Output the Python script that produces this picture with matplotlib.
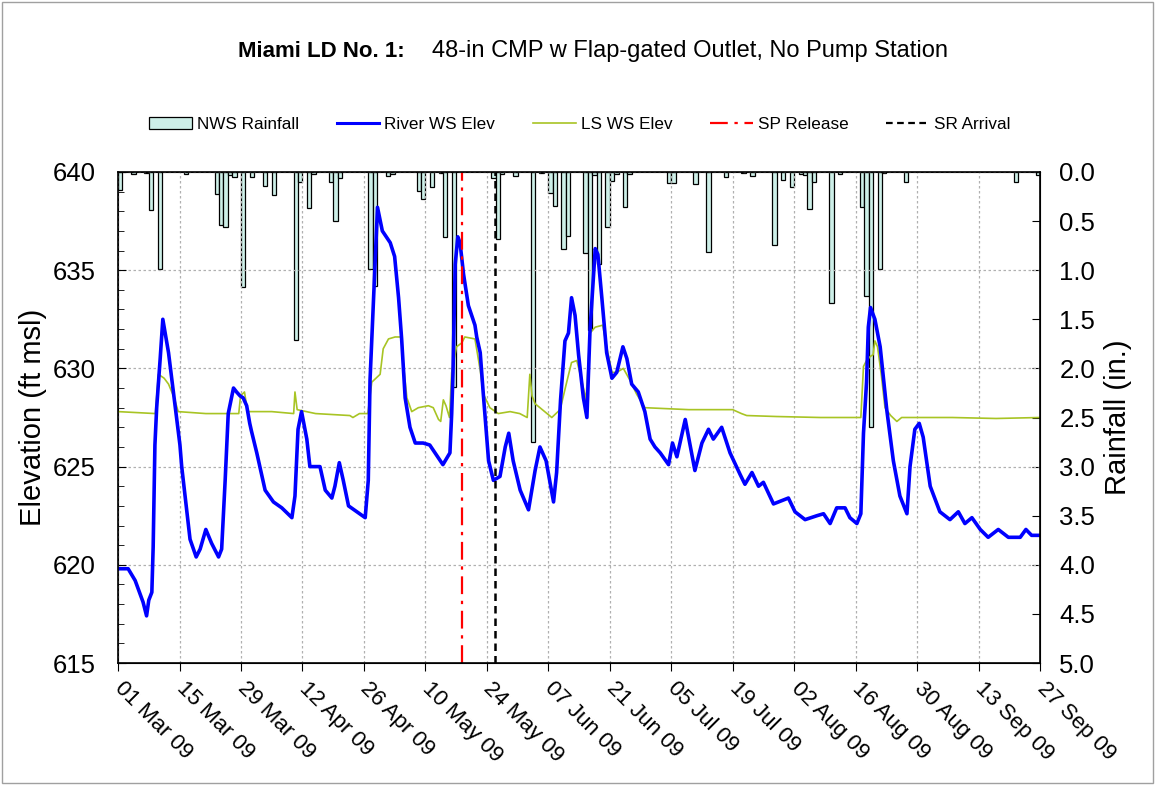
import matplotlib
matplotlib.use("Agg")
import matplotlib.pyplot as plt
import matplotlib.patches as mpatches
import matplotlib.lines as mlines
from matplotlib.ticker import MultipleLocator, FormatStrFormatter
import pandas as pd

plt.rcParams["font.family"] = ["Liberation Sans", "DejaVu Sans"]

# ── data (days after 01 Mar 2009) ────────────────────────────────────────────
start = pd.Timestamp("2009-03-01")

rain_day = [0, 3, 6, 7, 9, 15, 22, 23, 24, 25, 26, 28, 30, 33, 35, 40, 41, 43, 44,
            48, 49, 50, 57, 58, 61, 62, 68, 69, 71, 73, 74, 76, 85, 86, 87, 90,
            94, 96, 98, 99, 101, 102, 106, 107, 108, 109, 111, 112, 113, 115,
            116, 125, 126, 131, 134, 138, 142, 144, 149, 151, 153, 155, 156,
            157, 158, 162, 164, 169, 170, 171, 173, 174, 179, 204, 209]
rain_in = [0.18, 0.02, 0.01, 0.39, 0.99, 0.02, 0.22, 0.54, 0.56, 0.03, 0.05,
           1.17, 0.05, 0.14, 0.23, 1.71, 0.10, 0.37, 0.02, 0.10, 0.50, 0.06,
           0.99, 1.16, 0.04, 0.02, 0.19, 0.27, 0.15, 0.01, 0.66, 2.19, 0.06,
           0.68, 0.02, 0.04, 2.75, 0.01, 0.21, 0.35, 0.78, 0.65, 0.82, 1.61,
           0.03, 0.94, 0.56, 0.09, 0.02, 0.36, 0.02, 0.11, 0.11, 0.12, 0.81,
           0.05, 0.01, 0.04, 0.74, 0.08, 0.15, 0.02, 0.03, 0.38, 0.10, 1.33,
           0.02, 0.36, 1.26, 2.60, 0.99, 0.01, 0.10, 0.10, 0.03]

river_day = [0, 2.3, 3.9, 5.7, 6.5, 7.0, 7.7, 8.0, 8.4, 8.8, 9.6, 10.2, 11.5,
             13.0, 14.1, 14.5, 16.4, 17.8, 18.7, 20.0, 21.3, 22.9, 23.6, 24.4,
             25.1, 26.3, 27.0, 27.8, 28.5, 29.3, 30.0, 30.4, 31.6, 33.5, 35.4,
             37.3, 39.6, 40.3, 41.0, 41.8, 43.0, 43.7, 46.0, 47.2, 48.7, 49.4,
             50.4, 51.3, 52.5, 54.4, 56.3, 57.0, 57.4, 58.2, 59.1, 60.2, 62.0,
             63.0, 63.9, 64.6, 65.4, 66.5, 67.7, 69.5, 71.0, 72.2, 74.0, 75.6,
             76.0, 76.3, 76.8, 77.4, 77.9, 78.7, 79.8, 81.3, 81.7, 82.5, 83.2,
             84.4, 85.5, 87.0, 88.2, 89.0, 90.0, 91.6, 93.5, 95.0, 96.1, 97.5,
             99.2, 99.9, 100.8, 101.8, 102.6, 103.3, 104.1, 104.9, 106.0, 106.8,
             107.5, 108.7, 109.3, 110.2, 111.3, 112.5, 113.6, 115.0, 115.9,
             117.0, 118.5, 120.0, 121.2, 122.3, 123.5, 125.4, 126.3, 127.3,
             129.2, 131.4, 133.0, 134.5, 135.6, 137.5, 139.4, 141.7, 142.8,
             144.4, 145.9, 147.0, 149.3, 152.7, 154.2, 156.5, 159.2, 160.7,
             162.2, 163.7, 165.6, 166.7, 168.3, 169.2, 169.8, 170.5, 170.9,
             171.4, 172.4, 173.6, 175.1, 176.6, 178.1, 179.7, 180.4, 181.5,
             182.5, 183.4, 185.0, 187.2, 189.5, 191.4, 192.9, 194.5, 196.4,
             198.2, 200.5, 202.8, 205.5, 206.8, 208.1, 210.0]
river_elev = [619.8, 619.8, 619.2, 618.1, 617.4, 618.2, 618.6, 620.9, 626.1,
              628.0, 630.5, 632.5, 630.8, 628.1, 626.1, 625.0, 621.3, 620.4,
              620.8, 621.8, 621.1, 620.4, 620.8, 624.3, 627.7, 629.0, 628.8,
              628.6, 628.5, 628.1, 627.2, 626.8, 625.7, 623.8, 623.2, 622.9,
              622.4, 623.5, 626.9, 627.8, 626.4, 625.0, 625.0, 623.8, 623.4,
              624.0, 625.2, 624.3, 623.0, 622.7, 622.4, 624.3, 629.4, 633.6,
              638.2, 637.0, 636.4, 635.7, 633.6, 631.5, 628.5, 627.0, 626.2,
              626.2, 626.1, 625.7, 625.1, 625.7, 627.7, 629.8, 635.3, 636.7,
              636.4, 634.8, 633.2, 632.2, 631.6, 630.8, 628.7, 625.3, 624.3,
              624.5, 626.0, 626.7, 625.3, 623.8, 622.8, 624.8, 626.0, 625.3,
              623.2, 624.7, 628.4, 631.4, 631.8, 633.6, 632.7, 630.7, 628.5,
              627.5, 631.9, 636.1, 635.8, 633.6, 630.8, 629.5, 629.8, 631.1,
              630.5, 629.2, 628.8, 627.8, 626.4, 626.0, 625.7, 625.1, 626.2,
              625.5, 627.4, 624.8, 626.2, 626.9, 626.4, 627.0, 625.7, 624.6,
              624.1, 624.7, 624.0, 624.2, 623.1, 623.4, 622.7, 622.3, 622.5,
              622.6, 622.1, 622.9, 622.9, 622.4, 622.1, 622.6, 626.7, 629.3,
              632.1, 633.1, 632.5, 631.1, 627.9, 625.3, 623.5, 622.6, 625.0,
              626.9, 627.2, 626.5, 624.0, 622.7, 622.3, 622.7, 622.1, 622.4,
              621.8, 621.4, 621.8, 621.4, 621.4, 621.8, 621.5, 621.5]

ls_day = [0, 8.5, 9.2, 10.5, 11.5, 12.8, 13.7, 20, 27.5, 27.9, 28.8, 29.5, 35,
          40.0, 40.3, 40.8, 45, 52.8, 53.5, 55.0, 56.9, 57.8, 59.7, 60.4, 61.6,
          63.1, 64.5, 65.0, 65.8, 66.9, 68.4, 70.7, 71.8, 73.0, 73.5, 74.1,
          74.7, 75.5, 76.0, 77.1, 78.3, 79.0, 81.3, 82.5, 83.2, 84.7, 86.6,
          89.3, 91.5, 93.2, 93.8, 94.3, 95.0, 96.1, 98.8, 100.7, 102.2, 103.3,
          104.5, 105.6, 106.6, 107.5, 108.7, 110.4, 111.3, 112.5, 113.6, 115.1,
          116.6, 118.1, 120.0, 130, 140, 142, 143.2, 150, 160, 169.2, 169.8,
          170.5, 171.3, 172.0, 172.4, 173.0, 173.9, 174.7, 176.0, 177.4, 178.5,
          190, 200, 210]
ls_elev = [627.8, 627.7, 629.7, 629.5, 629.2, 628.5, 627.8, 627.7, 627.7, 628.6,
           628.8, 627.8, 627.8, 627.7, 628.8, 627.9, 627.7, 627.6, 627.5, 627.7,
           627.7, 629.3, 629.7, 631.0, 631.5, 631.6, 631.6, 630.2, 628.5, 627.8,
           628.0, 628.1, 628.0, 627.4, 627.3, 628.4, 628.1, 627.5, 629.8, 631.1,
           631.3, 631.6, 631.5, 629.9, 628.7, 628.0, 627.7, 627.8, 627.7, 627.5,
           629.7, 628.6, 628.2, 628.0, 627.5, 627.9, 629.3, 630.3, 630.4, 629.4,
           628.4, 631.8, 632.1, 632.2, 631.1, 629.8, 629.8, 630.0, 629.4, 628.7,
           628.0, 627.9, 627.9, 627.7, 627.6, 627.55, 627.5, 627.5, 630.1, 630.4,
           630.6, 630.7, 631.4, 631.1, 629.6, 628.0, 627.6, 627.3, 627.5, 627.5,
           627.45, 627.5]

sp_release = pd.Timestamp("2009-05-18 07:00")
sr_arrival = pd.Timestamp("2009-05-25 22:00")

tick_labels = ["01 Mar 09", "15 Mar 09", "29 Mar 09", "12 Apr 09", "26 Apr 09",
               "10 May 09", "24 May 09", "07 Jun 09", "21 Jun 09", "05 Jul 09",
               "19 Jul 09", "02 Aug 09", "16 Aug 09", "30 Aug 09", "13 Sep 09",
               "27 Sep 09"]
# ─────────────────────────────────────────────────────────────────────────────

def to_dates(days):
    return start + pd.to_timedelta(days, unit="D")

fig = plt.figure(figsize=(11.55, 7.85), dpi=100)
ax = fig.add_axes([0.1022, 0.1554, 0.7982, 0.6255])
ax2 = ax.twinx()
ax.set_zorder(ax2.get_zorder() + 1)
ax.patch.set_visible(False)

# rainfall bars hanging from the top (inverted right axis)
ax2.bar(to_dates(rain_day), rain_in, width=1.0, align="edge",
        color="#CDEFE8", edgecolor="black", linewidth=0.9)
ax2.set_ylim(5.0, 0.0)
ax2.yaxis.set_major_locator(MultipleLocator(0.5))
ax2.yaxis.set_major_formatter(FormatStrFormatter("%.1f"))
ax2.tick_params(axis="y", direction="in", length=6, labelsize=18.5, pad=14)
ax2.set_ylabel("Rainfall (in.)", fontsize=21, labelpad=6)

ax.plot(to_dates(ls_day), ls_elev, color="#A8C424", linewidth=1.2)
ax.plot(to_dates(river_day), river_elev, color="#0000FF", linewidth=2.6)
ax.axvline(sp_release, color="#FF0000", linestyle=(0, (8, 3, 1.5, 3)), linewidth=1.6)
ax.axvline(sr_arrival, color="black", linestyle=(0, (3, 2)), linewidth=1.8)

ax.set_ylim(615, 640)
ax.yaxis.set_major_locator(MultipleLocator(5))
ax.yaxis.set_minor_locator(MultipleLocator(1))
ax.tick_params(axis="y", which="major", direction="in", length=6,
               labelsize=18.5, pad=16)
ax.tick_params(axis="y", which="minor", direction="in", length=4)
ax.set_ylabel("Elevation (ft msl)", fontsize=21, labelpad=4)

tick_dates = pd.date_range(start, periods=len(tick_labels), freq="14D")
ax.set_xlim(tick_dates[0], tick_dates[-1])
ax.set_xticks(tick_dates)
ax.set_xticklabels(tick_labels, rotation=-45, ha="left", va="center",
                   rotation_mode="anchor", fontsize=16)
ax.tick_params(axis="x", direction="out", length=6, pad=10)

ax.grid(True, color="#B0B0B0", linestyle=(0, (2, 2)), linewidth=0.9)
for s in ax.spines.values():
    s.set_linewidth(1.2)

fig.text(0.3506, 0.935, "Miami LD No. 1:", fontsize=16, fontweight="bold",
         ha="right", va="center")
fig.text(0.374, 0.935, "48-in CMP w Flap-gated Outlet, No Pump Station",
         fontsize=17, ha="left", va="center")

handles = [
    mpatches.Patch(facecolor="#CDEFE8", edgecolor="black", linewidth=0.9,
                   label="NWS Rainfall"),
    mlines.Line2D([], [], color="#0000FF", linewidth=2.2, label="River WS Elev"),
    mlines.Line2D([], [], color="#A8C424", linewidth=1.2, label="LS WS Elev"),
    mlines.Line2D([], [], color="#FF0000", linestyle=(0, (8, 3, 1.5, 3)),
                  linewidth=1.6, label="SP Release"),
    mlines.Line2D([], [], color="black", linestyle=(0, (3, 2)), linewidth=1.6,
                  label="SR Arrival"),
]
fig.legend(handles=handles, loc="center", bbox_to_anchor=(0.502, 0.841), ncol=5,
           frameon=False, fontsize=12.3, handlelength=2.5, columnspacing=2.2,
           handletextpad=0.3)

fig.add_artist(mpatches.Rectangle((0.002, 0.003), 0.996, 0.994,
                                  transform=fig.transFigure, fill=False,
                                  edgecolor="#A0A0A0", linewidth=1.0))

fig.savefig("out.png", dpi=100)
